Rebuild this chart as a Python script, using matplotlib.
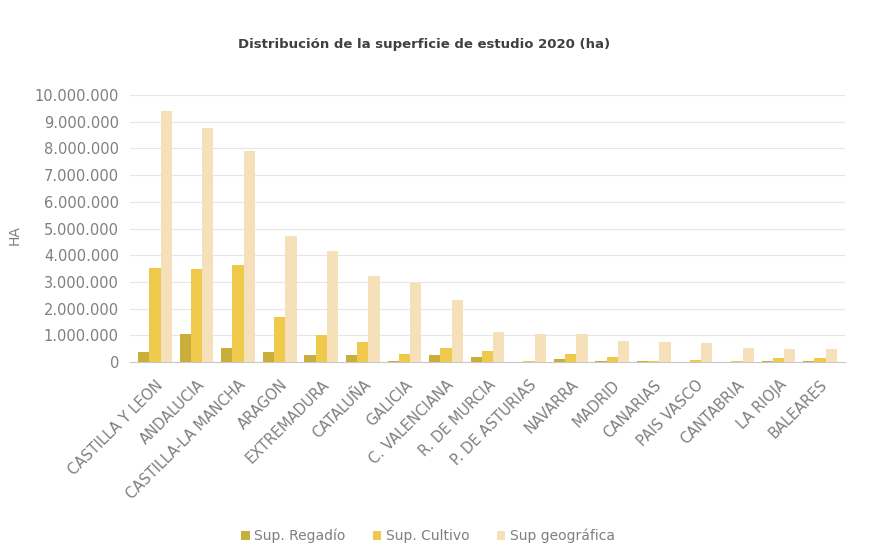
import numpy as np
import matplotlib.pyplot as plt
from matplotlib.ticker import FuncFormatter

regiones = ["CASTILLA Y LEON", "ANDALUCIA", "CASTILLA-LA MANCHA", "ARAGON",
            "EXTREMADURA", "CATALUÑA", "GALICIA", "C. VALENCIANA", "R. DE MURCIA",
            "P. DE ASTURIAS", "NAVARRA", "MADRID", "CANARIAS", "PAIS VASCO",
            "CANTABRIA", "LA RIOJA", "BALEARES"]
sup_regadio = [390000, 1030000, 520000, 360000, 250000, 250000, 30000, 270000,
               170000, 5000, 100000, 25000, 25000, 12000, 3000, 50000, 20000]
sup_cultivo = [3520000, 3500000, 3650000, 1700000, 1000000, 760000, 280000, 520000,
               400000, 40000, 300000, 200000, 50000, 90000, 40000, 150000, 150000]
sup_geografica = [9420000, 8760000, 7920000, 4720000, 4160000, 3210000, 2960000, 2330000,
                  1130000, 1060000, 1040000, 800000, 740000, 720000, 530000, 500000, 500000]

colores = ["#C9AE3A", "#EEC94C", "#F6E0BA"]
nombres = ["Sup. Regadío", "Sup. Cultivo", "Sup geográfica"]

fig = plt.figure(figsize=(8.93, 5.56), dpi=100)
ax = fig.add_axes([0.1456, 0.349, 0.8007, 0.480])

x = np.arange(len(regiones))
w = 0.27
for i, serie in enumerate([sup_regadio, sup_cultivo, sup_geografica]):
    ax.bar(x + (i - 1) * w, serie, width=w, color=colores[i], label=nombres[i], zorder=3)

ax.set_xlim(-0.6, len(regiones) - 0.4)
ax.set_ylim(0, 10000000)
ax.set_yticks(np.arange(0, 10000001, 1000000))
ax.yaxis.set_major_formatter(FuncFormatter(lambda v, p: f"{int(v):,}".replace(",", ".")))
ax.grid(axis="y", color="#E6E6E6", linewidth=0.8, zorder=0)
for s in ["top", "right", "left"]:
    ax.spines[s].set_visible(False)
ax.spines["bottom"].set_color("#C8C8C8")
ax.tick_params(axis="both", length=0, colors="#7F7F7F", labelsize=10.5)
ax.tick_params(axis="x", pad=11)
ax.tick_params(axis="y", pad=8)
ax.set_xticks(x)
ax.set_xticklabels(regiones, rotation=45, ha="right", rotation_mode="anchor")
fig.text(15 / 893, 1 - 235 / 556, "HA", rotation=90, ha="center", va="center",
         color="#7F7F7F", fontsize=10)

fig.text(424 / 893, 1 - 45 / 556, "Distribución de la superficie de estudio 2020 (ha)",
         ha="center", va="center", fontsize=9.5, color="#404040", fontweight="bold")
fig.legend(loc="center", bbox_to_anchor=(428 / 893, 1 - 536 / 556), ncol=3, frameon=False,
           fontsize=10, labelcolor="#7F7F7F", handlelength=0.6, handleheight=0.6,
           columnspacing=2.0, handletextpad=0.3)

plt.savefig("out.png", dpi=100)
